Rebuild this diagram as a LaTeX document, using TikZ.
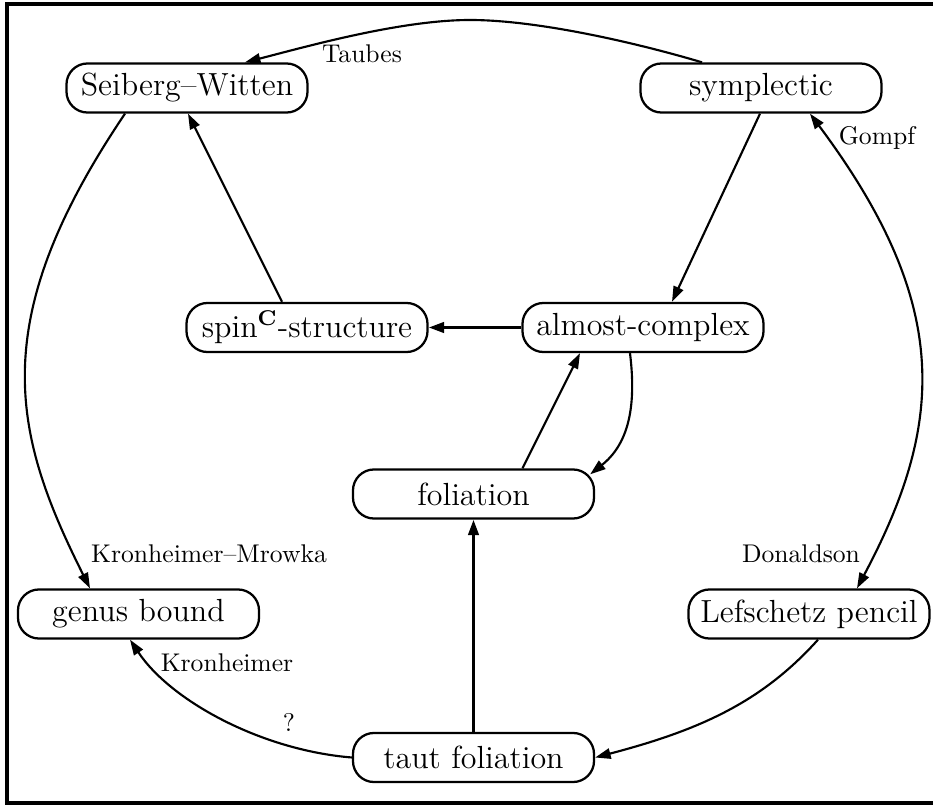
\documentclass[tikz,border=0pt]{standalone}
\usetikzlibrary{arrows.meta,calc}
\begin{document}
\begin{tikzpicture}[x=0.375pt,y=-0.375pt,
  box/.style={draw,line width=0.85pt,rounded corners=7.9pt,minimum width=90.4pt,minimum height=18.4pt,inner sep=0pt,font=\fontsize{12}{14}\selectfont},
  lbl/.style={font=\fontsize{9.6}{11}\selectfont,inner sep=0pt},
  conn/.style={line width=0.8pt,-{Triangle[length=5.8pt,width=3.9pt]}},
  bothconn/.style={line width=0.8pt,{Triangle[length=5.8pt,width=3.9pt]}-{Triangle[length=5.8pt,width=3.9pt]}},
  thickconn/.style={line width=1.15pt,-{Triangle[length=5.8pt,width=3.9pt]}}
]
\useasboundingbox (0,0) rectangle (933,806);
\draw[line width=1.2pt] (7,4) rectangle (950,803);

\node[box] (sw) at (187,88) {Seiberg--Witten};
\node[box] (symp) at (761,88) {symplectic};
\node[box] (spin) at (307,327.5) {spin$^{\mathbf{C}}$-structure};
\node[box] (ac) at (643,327.5) {almost-complex};
\node[box] (fol) at (473.5,494) {foliation};
\node[box] (genus) at (138.5,614) {genus bound};
\node[box] (lef) at (809,614) {Lefschetz pencil};
\node[box] (taut) at (473.5,757.5) {taut foliation};

\coordinate (peak) at (470,20);
\draw[conn] ($(symp.north)+(-59,0)$) .. controls (642,44.4) and (540,20) .. (peak)
  .. controls (400,20) and (305,47) .. ($(sw.north)+(58,0)$);
\draw[conn] ($(sw.south)+(-62,0)$) .. controls (-15,321) and (12,433) .. ($(genus.north)+(-48.5,0)$);
\draw[conn] ($(symp.south)+(-1,0)$) -- ($(ac.north)+(29,0)$);
\draw[bothconn] ($(symp.south)+(49,0)$) .. controls (952,304) and (945,423) .. ($(lef.north)+(48,0)$);
\draw[thickconn] (ac.west) -- (spin.east);
\draw[conn] ($(spin.north)+(-25,0)$) -- ($(sw.south)+(1,0)$);
\draw[conn] ($(fol.north)+(49,0)$) -- ($(ac.south)+(-63,0)$);
\draw[conn] ($(ac.south)+(-13,0)$) .. controls (637,410) and (627,445) .. ($(fol.north east)+(-5,6)$);
\draw[thickconn] (taut.north) -- (fol.south);
\draw[conn] ($(lef.south)+(9,0)$) .. controls (762,702) and (700,730) .. (taut.east);
\draw[conn] (taut.west) .. controls (260,750) and (170,700) .. ($(genus.south)+(-8.5,0)$);

\node[lbl] (taubes) at (362,54) {Taubes};
\node[lbl] (km) at (209,554) {Kronheimer--Mrowka};
\node[lbl] (gompf) at (877,138) {Gompf};
\node[lbl] (donaldson) at (801,554) {Donaldson};
\node[lbl] (kron) at (227,662.5) {Kronheimer};
\node[lbl] (q) at (289,722) {?};
\end{tikzpicture}
\end{document}
